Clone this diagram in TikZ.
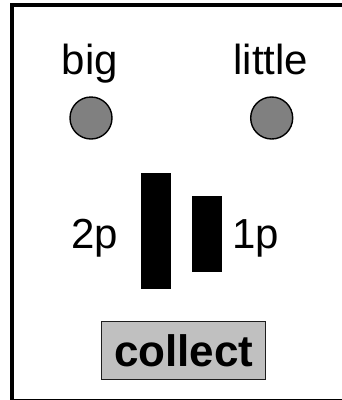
\documentclass[tikz,border=0pt]{standalone}
\usepackage{fontspec}
\setmainfont{Liberation Sans}
\begin{document}
\begin{tikzpicture}[x=1pt,y=-1pt,
  lbl/.style={inner sep=0pt, anchor=base, font=\fontsize{42}{50}\selectfont},
  lamp/.style={circle, draw=black, line width=1.4pt, fill={rgb,255:red,128;green,128;blue,128},
               minimum size=42pt, inner sep=0pt},
  bar/.style={fill=black, draw=none},
  btn/.style={draw={rgb,255:red,30;green,30;blue,30}, line width=1.5pt,
              fill={rgb,255:red,192;green,192;blue,192}, inner sep=0pt,
              minimum width=164pt, minimum height=57.6pt,
              font=\bfseries\fontsize{44}{52}\selectfont}]
  \useasboundingbox (0,0) rectangle (342,400);
  \clip (0,0) rectangle (342,400);
  % panel outline (right side runs past the page edge)
  \draw[line width=3.6pt] (12,4.8) rectangle (348,400.5);
  % lamp labels and lamps
  \node[lbl] (big) at (90,74) {big};
  \node[lbl] (little) at (271,74) {little};
  \node[lamp] (lampbig) at (91,118) {};
  \node[lamp] (lamplittle) at (271.7,118) {};
  % coin slots
  \fill[bar] (141,173) rectangle (171,289);
  \fill[bar] (192,196) rectangle (222,272);
  \node[lbl] (two) at (95,248) {2p};
  \node[lbl] (one) at (255.5,248) {1p};
  % collect button
  \node[btn] (collect) at (183.7,350.5) {collect};
\end{tikzpicture}
\end{document}
